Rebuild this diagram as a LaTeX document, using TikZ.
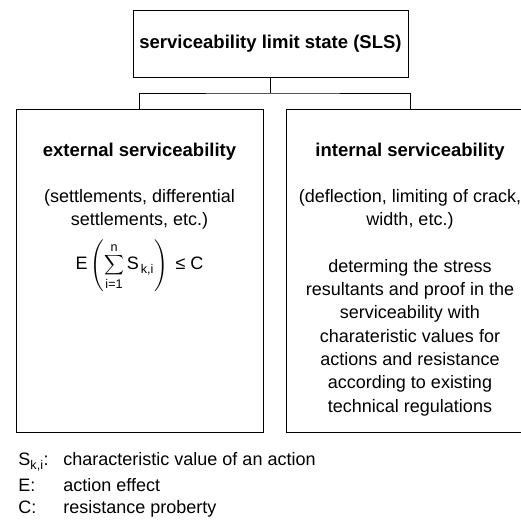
\documentclass[tikz,border=0pt]{standalone}
\usepackage{amsmath}
\usepackage{graphicx}
\usepackage{fontspec}
\setmainfont{Liberation Sans}
\usetikzlibrary{calc,positioning}

\newcommand{\smallsum}{\mathop{\vcenter{\hbox{\scalebox{0.8}{$\displaystyle\sum$}}}}}

\begin{document}
\begin{tikzpicture}[x=1pt, y=1pt, line width=0.9pt,
  box/.style={draw, rectangle, inner sep=0pt},
  txt/.style={align=center, inner sep=0pt, font=\fontsize{18}{23.3}\selectfont},
  head/.style={txt, font=\fontsize{18.5}{23.3}\selectfont\bfseries}]

% ---------------------------
% Page frame (the right box runs off the edge)
% ---------------------------
\useasboundingbox (0,0) rectangle (521,521);
\clip (0,0) rectangle (521,521);

% ---------------------------
% Boxes
% ---------------------------
\node[box, minimum width=275pt, minimum height=67pt] (sls) at (270.5,477.5) {};
\node[head] (slsText) at (sls.center) {serviceability limit state (SLS)};

\node[box, minimum width=247pt, minimum height=323pt] (ext) at (139.5,250.5) {};
\node[box, minimum width=248pt, minimum height=323pt] (int) at (410,250.5) {};

% ---------------------------
% Connector: top box to the two boxes below
% ---------------------------
\coordinate (bar) at (270.5,428);
\draw (sls.south) -- (bar);
\draw (ext.north) |- (bar) -| (int.north);

% ---------------------------
% Text of the left box
% ---------------------------
\node[head] (extHead) at ($(ext.north)+(0,-43)$) {external serviceability};
\node[txt] (extNote) at ($(ext.north)+(0,-101)$) {(settlements, differential\\settlements, etc.)};
\node[txt] (extEq) at ($(ext.north)+(0,-157)$)
  {$\text{E}\left(\smallsum\limits_{\text{i=1}}^{\text{n}} \text{S}_{\,\text{k,i}}\right) \text{ ≤ C}$};

% ---------------------------
% Text of the right box
% ---------------------------
\node[head] (intHead) at ($(int.north)+(0,-43)$) {internal serviceability};
\node[txt] (intNote) at ($(int.north)+(0,-100.5)$) {(deflection, limiting of crack,\\width, etc.)};
\node[txt] (intProof) at ($(int.north)+(0,-229)$)
  {determing the stress\\resultants and proof in the\\serviceability with\\charateristic values for\\actions and resistance\\according to existing\\technical regulations};

% ---------------------------
% Legend
% ---------------------------
\node[txt, anchor=base west] (symS) at (18,55) {S\textsubscript{k,i}:};
\node[txt, anchor=base west] (defS) at (63,55) {characteristic value of an action};
\node[txt, anchor=base west] (symE) at (18,29) {E:};
\node[txt, anchor=base west] (defE) at (63,29) {action effect};
\node[txt, anchor=base west] (symC) at (18,8) {C:};
\node[txt, anchor=base west] (defC) at (63,8) {resistance proberty};

\end{tikzpicture}
\end{document}
